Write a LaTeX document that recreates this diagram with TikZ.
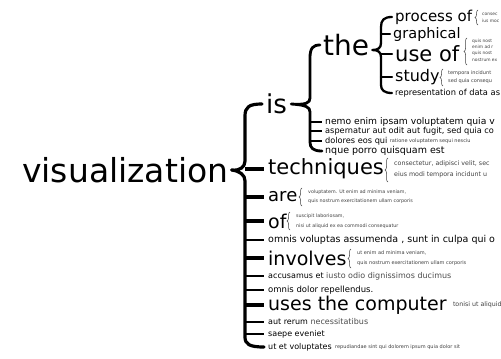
\documentclass[tikz,border=0pt]{standalone}
\usepackage{fontspec}
\setmainfont{DejaVu Sans}
\usetikzlibrary{decorations.pathreplacing}
\newcommand{\fsz}[1]{\fontsize{#1}{#1}\selectfont}
\begin{document}
\begin{tikzpicture}[x=1pt,y=-1pt,
  txt/.style={anchor=west, inner sep=0pt, font=\fsz{#1}},
  sub/.style={anchor=west, inner sep=0pt, font=\fsz{#1}, text=black!75},
  bb/.style={line width=3.2pt, line cap=round, line join=round},
  mb/.style={line width=2.8pt, line cap=round, line join=round},
  tb/.style={line width=2.3pt, line cap=round, line join=round},
  tk/.style={line width=3.2pt},
  ts/.style={line width=2.3pt},
  cb/.style={draw=black!75, line width=0.5pt, decorate, decoration={brace, amplitude=3pt}}
]
\useasboundingbox (0,0) rectangle (501,359);
\clip (0,0) rectangle (501,359);

% root
\node[txt=33] (viz) at (22,170) {visualization};

% level 1
\node[txt=26] (is) at (266,104) {is};
\node[txt=21] (tech) at (268,169) {techniques};
\node[txt=18] (are) at (268,197) {are};
\node[txt=19] (of) at (268,221) {of};
\node[txt=9.5] (omv) at (268,240) {omnis voluptas assumenda , sunt in culpa qui o};
\node[txt=19] (inv) at (268,258) {involves};
\node[txt=8] (acc) at (268,276) {accusamus et {\color{black!70}iusto odio dignissimos ducimus}};
\node[txt=8.5] (omd) at (268,290) {omnis dolor repellendus.};
\node[txt=19] (uses) at (268,305) {uses the computer};
\node[txt=8] (aut) at (268,322) {aut rerum {\color{black!70}necessitatibus}};
\node[txt=8] (saepe) at (268,334) {saepe eveniet};
\node[txt=8] (utet) at (268,347) {ut et voluptates};

% level 2 under "is"
\node[txt=28] (the) at (323,45) {the};
\node[txt=9.2] (nemo) at (325,122) {nemo enim ipsam voluptatem quia v};
\node[txt=8.2] (asp) at (325,131) {aspernatur aut odit aut fugit, sed quia co};
\node[txt=8.2] (dol) at (325,141) {dolores eos qui};
\node[txt=9.5] (nque) at (325,151) {nque porro quisquam est};

% level 3 under "the"
\node[txt=15] (proc) at (395,17) {process of};
\node[txt=14.5] (graph) at (393,34) {graphical};
\node[txt=21] (useof) at (395,54) {use of};
\node[txt=16] (study) at (395,77) {study};
\node[txt=8.3] (repr) at (395,93) {representation of data as};

% sub texts
\node[sub=4.4] (p1) at (482,14) {consec};
\node[sub=4.4] (p2) at (482,21) {ius moc};
\node[sub=4.4] (u1) at (472,41) {quis nost};
\node[sub=4.4] (u2) at (472,47) {enim ad r};
\node[sub=4.4] (u3) at (472,53) {quis nost};
\node[sub=4.4] (u4) at (472,60) {nostrum ex};
\node[sub=5] (s1) at (448,73) {tempora incidunt};
\node[sub=5] (s2) at (448,81) {sed quia consequ};
\node[sub=5] (dolx) at (dol.east) [anchor=west, xshift=2pt] {ratione voluptatem sequi nesciu};
\node[sub=6.3] (t1) at (394,164) {consectetur, adipisci velit, sec};
\node[sub=6.3] (t2) at (394,175) {eius modi tempora incidunt u};
\node[sub=4.8] (a1) at (308,192) {voluptatem. Ut enim ad minima veniam,};
\node[sub=4.8] (a2) at (308,201) {quis nostrum exercitationem ullam corporis};
\node[sub=4.8] (o1) at (296,216) {suscipit laboriosam,};
\node[sub=4.8] (o2) at (296,226) {nisi ut aliquid ex ea commodi consequatur};
\node[sub=5] (i1) at (357,253) {ut enim ad minima veniam,};
\node[sub=5] (i2) at (357,263) {quis nostrum exercitationem ullam corporis};
\node[sub=6.3] (ux) at (uses.east) [anchor=west, xshift=6pt] {tonisi ut aliquid};
\node[sub=5] (utx) at (utet.east) [anchor=west, xshift=3pt] {repudiandae sint qui dolorem ipsum quia dolor sit};

% main brace
\draw[bb] ([xshift=-4pt]is.west) .. controls (249,104) and (245,107) .. (245,116)
  -- (245,161) .. controls (245,167) and (240,171) .. ([xshift=3pt]viz.east)
  .. controls (240,171) and (245,175) .. (245,181)
  -- (245,337) .. controls (245,344) and (249,347) .. ([xshift=-4pt]utet.west);
\foreach \n in {tech,are,of,inv,uses}
  \draw[tk] (245,0 |- \n.west) -- ([xshift=-4pt]\n.west);
\foreach \n in {omv,acc,omd,aut,saepe}
  \draw[ts] (245,0 |- \n.west) -- ([xshift=-4pt]\n.west);

% "is" brace
\draw[mb] ([xshift=-3pt]the.west) .. controls (313,45) and (310,48) .. (310,58)
  -- (310,98) .. controls (310,103) and (306,105) .. ([xshift=4pt]is.east)
  .. controls (306,105) and (310,107) .. (310,112)
  -- (310,142) .. controls (310,148) and (313,151) .. ([xshift=-3pt]nque.west);
\foreach \n in {nemo,asp,dol}
  \draw[ts] (310,0 |- \n.west) -- ([xshift=-3pt]\n.west);

% "the" brace
\draw[tb] ([xshift=-3pt]proc.west) .. controls (384,17) and (381,20) .. (381,27)
  -- (381,43) .. controls (381,48) and (378,50) .. ([shift={(3,5)}]the.east)
  .. controls (378,50) and (381,52) .. (381,57)
  -- (381,85) .. controls (381,90) and (384,93) .. ([xshift=-3pt]repr.west);
\foreach \n in {graph,useof,study}
  \draw[tb] (381,0 |- \n.west) -- ([xshift=-3pt]\n.west);

% small curly braces
\draw[cb] (478,25) -- (478,10);
\draw[cb] (467,65) -- (467,38);
\draw[cb] (443,86) -- (443,69);
\draw[cb] (388,182) -- (388,158);
\draw[cb] (302,206) -- (302,188);
\draw[cb] (290,230) -- (290,212);
\draw[cb] (351,268) -- (351,249);
\end{tikzpicture}
\end{document}
